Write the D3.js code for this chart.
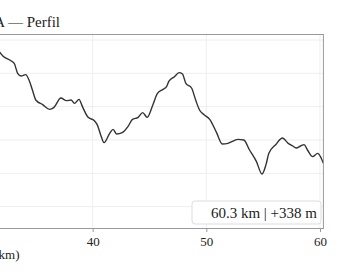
<!DOCTYPE html>
<html>
<head>
<meta charset="utf-8">
<script src="https://cdn.jsdelivr.net/npm/d3@7"></script>
<style>
  body { margin: 0; background: #fff; }
  svg { display: block; font-family: "Liberation Serif", serif; }
</style>
</head>
<body>
<svg class="chart" width="345" height="278"></svg>
<script>
// distance (km) and elevation (m)
const km = [31.8, 32.1, 32.7, 33.1, 33.4, 33.7, 34.1, 34.4, 34.7, 35.0, 35.6, 36.2, 36.6, 37.2, 37.7, 38.1, 38.4, 38.8, 39.1, 39.6,
  40.15, 40.4, 40.7, 41.0, 41.5, 41.8, 42.1, 42.6, 43.1, 43.5, 44.0, 44.4, 44.8, 45.3, 45.7, 46.2, 46.5, 46.7, 47.2, 47.6,
  47.9, 48.2, 48.7, 49.1, 49.4, 49.8, 50.3, 50.9, 51.4, 51.9, 52.3, 52.8, 53.3, 53.8, 54.4, 54.9, 55.25, 55.5, 56.1, 56.7,
  57.2, 57.6, 57.9, 58.3, 58.6, 58.9, 59.35, 59.8, 60.1, 60.3];
const elev = [332, 326, 320, 315, 300, 296, 298, 290, 275, 260, 253, 246, 249, 263, 259, 260, 255, 261, 250, 234,
  229, 223, 208, 196, 210, 216, 209, 211, 220, 231, 234, 241, 234, 253, 270, 276, 280, 288, 295, 301,
  299, 285, 278, 258, 245, 238, 231, 211, 194, 195, 198, 201, 200, 185, 168, 149, 163, 180, 193, 203,
  195, 191, 188, 191, 193, 185, 175, 180, 173, 165];

const xTicks = [0, 10, 20, 30, 40, 50, 60];
const yTicks = [100, 150, 200, 250, 300, 350];
const title = "RUTA — Perfil";
const xLabel = "Distancia (km)";
const summary = "60.3 km | +338 m";

const data = km.map((d, i) => ({ km: d, elev: elev[i] }));

const svg = d3.select(".chart");

let plotLeft = -362;
let plotRight = 323.4;
let plotTop = 34;
let plotBottom = 228;

const xScale = d3.scaleLinear().domain([0, 60.3]).range([plotLeft, plotRight]);
const yScale = d3.scaleLinear().domain([68, 359]).range([plotBottom, plotTop]);

// title
svg.append("text")
  .attr("x", 60)
  .attr("y", 27)
  .attr("text-anchor", "end")
  .style("font-size", "15px")
  .style("fill", "#222")
  .text(title);

// grid
svg.append("g")
  .selectAll("line")
  .data(yTicks)
  .enter()
  .append("line")
  .attr("x1", plotLeft)
  .attr("x2", plotRight)
  .attr("y1", (d) => yScale(d))
  .attr("y2", (d) => yScale(d))
  .attr("stroke", "#eeeeee")
  .attr("stroke-width", 1);

svg.append("g")
  .selectAll("line")
  .data(xTicks)
  .enter()
  .append("line")
  .attr("x1", (d) => xScale(d))
  .attr("x2", (d) => xScale(d))
  .attr("y1", plotTop)
  .attr("y2", plotBottom)
  .attr("stroke", "#eeeeee")
  .attr("stroke-width", 1);

// x axis
const xAxis = d3.axisBottom(xScale).tickValues(xTicks).tickSize(4).tickPadding(5);
const gx = svg.append("g")
  .attr("transform", `translate(0,${plotBottom})`)
  .call(xAxis);
gx.select(".domain").remove();
gx.selectAll(".tick line").attr("stroke", "#999");
gx.selectAll(".tick text")
  .style("font-family", "Liberation Serif, serif")
  .style("font-size", "13px")
  .style("fill", "#222");

svg.append("text")
  .attr("x", (plotLeft + plotRight) / 2)
  .attr("y", 259)
  .attr("text-anchor", "middle")
  .style("font-size", "13px")
  .style("fill", "#222")
  .text(xLabel);

// profile line
svg.append("path")
  .datum(data)
  .attr("fill", "none")
  .attr("stroke", "#333")
  .attr("stroke-width", 1.4)
  .attr("stroke-linejoin", "round")
  .attr("d", d3.line()
    .x((d) => xScale(d.km))
    .y((d) => yScale(d.elev))
    .curve(d3.curveMonotoneX));

// frame
svg.append("rect")
  .attr("x", plotLeft)
  .attr("y", plotTop + 0.5)
  .attr("width", plotRight - plotLeft)
  .attr("height", plotBottom - plotTop)
  .attr("fill", "none")
  .attr("stroke", "#999")
  .attr("stroke-width", 1);

// summary box
svg.append("rect")
  .attr("x", 192)
  .attr("y", 201)
  .attr("width", 129)
  .attr("height", 23)
  .attr("rx", 3)
  .attr("fill", "#fff")
  .attr("stroke", "#dddddd");

svg.append("text")
  .attr("x", 317)
  .attr("y", 218)
  .attr("text-anchor", "end")
  .style("font-size", "15px")
  .style("fill", "#222")
  .text(summary);
</script>
</body>
</html>
